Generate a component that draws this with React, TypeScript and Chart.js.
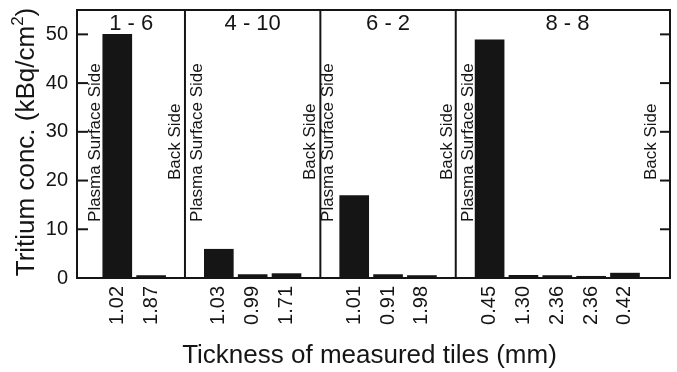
import React, { useEffect, useRef } from "react";
import { Chart, registerables } from "chart.js";

Chart.register(...registerables);

// Data
const positions = [0, 1, 3, 4, 5, 7, 8, 9, 11, 12, 13, 14, 15];
const thicknessLabels = ["1.02", "1.87", "1.03", "0.99", "1.71", "1.01", "0.91", "1.98", "0.45", "1.30", "2.36", "2.36", "0.42"];
const tritiumValues = [50.0, 0.5, 5.9, 0.7, 0.9, 16.9, 0.7, 0.5, 48.9, 0.55, 0.5, 0.35, 1.0];
const dividers = [2, 6, 10];
const groupNames = ["1 - 6", "4 - 10", "6 - 2", "8 - 8"];
const groupCenters = [0.41, 4, 8, 13.3];
const yTickValues = [0, 10, 20, 30, 40, 50];
const sideLabels = ["Plasma Surface Side", "Back Side", "Plasma Surface Side", "Back Side", "Plasma Surface Side", "Back Side", "Plasma Surface Side", "Back Side"];
const sideLabelX = [-0.65, 1.72, 2.35, 5.7, 6.24, 9.76, 10.36, 15.79];
const sideLabelY = [11.5, 20.1, 11.5, 20.1, 11.5, 20.1, 11.5, 20.1];

const FONT = "'Liberation Sans', Arial, Helvetica, sans-serif";
const INK = "#151515";

const overlay = {
  id: "overlay",
  afterDatasetsDraw(chart: any) {
    const { ctx, chartArea: a, scales } = chart;
    const x = scales.x;
    const y = scales.y;
    ctx.save();
    ctx.strokeStyle = INK;
    ctx.lineWidth = 2;
    ctx.strokeRect(a.left, a.top, a.right - a.left, a.bottom - a.top);
    const line = (x1: number, y1: number, x2: number, y2: number) => {
      ctx.beginPath();
      ctx.moveTo(x1, y1);
      ctx.lineTo(x2, y2);
      ctx.stroke();
    };
    dividers.forEach((d) => {
      const px = x.getPixelForValue(d);
      line(px, a.top, px, a.bottom);
    });
    yTickValues.forEach((v) => {
      const py = y.getPixelForValue(v);
      line(a.left, py, a.left + 11, py);
      line(a.right - 10, py, a.right, py);
    });
    // group names
    ctx.fillStyle = INK;
    ctx.font = `22px ${FONT}`;
    ctx.textAlign = "center";
    ctx.textBaseline = "middle";
    groupNames.forEach((g, i) => {
      ctx.fillText(g, x.getPixelForValue(groupCenters[i]), a.top + 14);
    });
    // side labels
    ctx.font = `17px ${FONT}`;
    ctx.textAlign = "left";
    sideLabels.forEach((s, i) => {
      ctx.save();
      ctx.translate(x.getPixelForValue(sideLabelX[i]), y.getPixelForValue(sideLabelY[i]));
      ctx.rotate(-Math.PI / 2);
      ctx.fillText(s, 0, 0);
      ctx.restore();
    });
    // y title
    const main = "Tritium conc. (kBq/cm";
    const sup = "2";
    const end = ")";
    ctx.font = `26px ${FONT}`;
    const wMain = ctx.measureText(main).width;
    const wEnd = ctx.measureText(end).width;
    ctx.font = `17px ${FONT}`;
    const wSup = ctx.measureText(sup).width;
    const total = wMain + wSup + wEnd;
    ctx.save();
    ctx.translate(27, (a.top + a.bottom) / 2 - 2);
    ctx.rotate(-Math.PI / 2);
    ctx.textAlign = "left";
    ctx.textBaseline = "middle";
    let sx = -total / 2;
    ctx.font = `26px ${FONT}`;
    ctx.fillText(main, sx, 0);
    sx += wMain;
    ctx.font = `17px ${FONT}`;
    ctx.fillText(sup, sx, -9);
    sx += wSup;
    ctx.font = `26px ${FONT}`;
    ctx.fillText(end, sx, 0);
    ctx.restore();
    // x title
    ctx.font = `26px ${FONT}`;
    ctx.textAlign = "center";
    ctx.textBaseline = "middle";
    ctx.fillText("Tickness of measured tiles (mm)", (a.left + a.right) / 2 - 4, 356);
    ctx.restore();
  },
};

export default function App() {
  const ref = useRef<HTMLCanvasElement | null>(null);
  useEffect(() => {
    if (!ref.current) return;
    const chart = new Chart(ref.current, {
      type: "bar",
      data: {
        datasets: [
          {
            data: positions.map((p, i) => ({ x: p, y: tritiumValues[i] })),
            backgroundColor: INK,
            borderWidth: 0,
            barThickness: 29,
          },
        ],
      },
      options: {
        animation: false,
        responsive: true,
        maintainAspectRatio: false,
        layout: { padding: { left: 0, right: 7, top: 10, bottom: 0 } },
        plugins: { legend: { display: false }, tooltip: { enabled: false } },
        scales: {
          x: {
            type: "linear",
            offset: false,
            min: -1.19,
            max: 16.33,
            grid: { display: false, drawTicks: false, offset: false },
            border: { display: false },
            afterBuildTicks: (scale: any) => {
              scale.ticks = positions.map((p) => ({ value: p }));
            },
            afterFit: (scale: any) => {
              scale.height = 94;
              scale.paddingLeft = 0;
              scale.paddingRight = 0;
            },
            ticks: {
              autoSkip: false,
              minRotation: 90,
              maxRotation: 90,
              padding: 8,
              color: INK,
              font: { family: FONT, size: 20 },
              callback: (v: any) => {
                const idx = positions.indexOf(Number(v));
                return idx >= 0 ? thicknessLabels[idx] : "";
              },
            },
          },
          y: {
            min: 0,
            max: 55,
            grid: { display: false, drawTicks: false },
            border: { display: false },
            afterBuildTicks: (scale: any) => {
              scale.ticks = yTickValues.map((v) => ({ value: v }));
            },
            afterFit: (scale: any) => {
              scale.width = 77;
              scale.paddingTop = 0;
              scale.paddingBottom = 0;
            },
            ticks: {
              padding: 9,
              color: INK,
              font: { family: FONT, size: 20 },
            },
          },
        },
      },
      plugins: [overlay],
    } as any);
    return () => chart.destroy();
  }, []);
  return (
    <div style={{ position: "absolute", left: 0, top: 0, width: 677, height: 372, background: "#fff" }}>
      <canvas ref={ref} />
    </div>
  );
}
